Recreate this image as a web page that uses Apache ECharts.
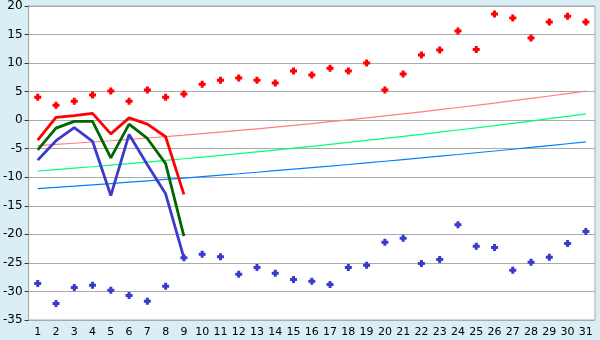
<!DOCTYPE html>
<html><head><meta charset="utf-8">
<script src="https://cdn.jsdelivr.net/npm/echarts@6/dist/echarts.min.js"></script>
<style>html,body{margin:0;padding:0;background:#daeef5;}#c{width:600px;height:340px;}</style>
</head><body><div id="c"></div>
<script>
var days = ['1','2','3','4','5','6','7','8','9','10','11','12','13','14','15','16','17','18','19','20','21','22','23','24','25','26','27','28','29','30','31'];
var maxPoints = [4.0,2.6,3.3,4.4,5.1,3.3,5.3,4.0,4.6,6.3,7.0,7.4,7.0,6.5,8.6,7.9,9.1,8.6,10.0,5.3,8.1,11.4,12.3,15.6,12.4,18.6,17.9,14.4,17.2,18.2,17.2];
var minPoints = [-28.6,-32.1,-29.3,-28.9,-29.8,-30.7,-31.7,-29.1,-24.1,-23.5,-23.9,-27.0,-25.8,-26.8,-27.9,-28.2,-28.8,-25.8,-25.4,-21.4,-20.7,-25.1,-24.4,-18.3,-22.1,-22.3,-26.3,-24.9,-24.0,-21.6,-19.5];
var maxLine = [-3.5,0.5,0.8,1.2,-2.4,0.4,-0.7,-2.9,-13.0];
var meanLine = [-5.2,-1.4,-0.2,-0.2,-6.6,-0.7,-3.2,-7.6,-20.3];
var minLine = [-7.0,-3.6,-1.3,-3.7,-13.2,-2.5,-7.8,-12.9,-24.1];
var normMax = [-4.45,-4.25,-4.04,-3.82,-3.60,-3.37,-3.12,-2.87,-2.62,-2.35,-2.08,-1.80,-1.51,-1.21,-0.90,-0.59,-0.26,0.07,0.40,0.75,1.11,1.47,1.84,2.22,2.61,3.00,3.41,3.82,4.24,4.66,5.10];
var normMean = [-8.90,-8.65,-8.40,-8.16,-7.88,-7.61,-7.33,-7.05,-6.76,-6.47,-6.17,-5.86,-5.55,-5.23,-4.91,-4.58,-4.24,-3.90,-3.55,-3.20,-2.84,-2.47,-2.10,-1.72,-1.34,-0.95,-0.55,-0.15,0.26,0.67,1.09];
var normMin = [-12.00,-11.78,-11.56,-11.33,-11.10,-10.86,-10.62,-10.38,-10.14,-9.89,-9.63,-9.38,-9.12,-8.85,-8.58,-8.31,-8.04,-7.76,-7.48,-7.19,-6.90,-6.61,-6.31,-6.01,-5.70,-5.40,-5.09,-4.77,-4.45,-4.13,-3.80];
var yTicks = {min:-35, max:20, interval:5};

var plus = 'path://M2,0H5V2H7V5H5V7H2V5H0V2H2Z';
function thin(data,color){return {type:'line',data:data,symbol:'none',lineStyle:{color:color,width:1.2},animation:false,z:2};}
function thick(data,color){return {type:'line',data:data,symbol:'none',lineStyle:{color:color,width:2.8},animation:false,z:3};}
function pts(data,color){return {type:'scatter',data:data,symbol:plus,symbolSize:7,itemStyle:{color:color,opacity:1},animation:false,z:4};}

var chart = echarts.init(document.getElementById('c'));
chart.setOption({
  backgroundColor:'#daeef5',
  grid:{left:26,right:5,top:5,bottom:20,show:true,backgroundColor:'#ffffff',borderColor:'#aaaaaa',borderWidth:1},
  xAxis:{type:'category',data:days,boundaryGap:true,
    axisLine:{lineStyle:{color:'#aaaaaa'}},
    axisTick:{alignWithLabel:true,length:5,lineStyle:{color:'#333333'}},
    axisLabel:{color:'#000',fontSize:11,fontFamily:'DejaVu Sans',margin:7,interval:0},
    splitLine:{show:false}},
  yAxis:{type:'value',min:yTicks.min,max:yTicks.max,interval:yTicks.interval,
    axisLine:{show:true,lineStyle:{color:'#aaaaaa'}},
    axisTick:{show:true,length:4,lineStyle:{color:'#333333'}},
    axisLabel:{color:'#000',fontSize:12,fontFamily:'DejaVu Sans',margin:6},
    splitLine:{lineStyle:{color:'#aaaaaa',width:1}}},
  series:[
    thin(normMax,'#ff8080'),
    thin(normMean,'#00ff80'),
    thin(normMin,'#0080ff'),
    thick(maxLine,'#ff0000'),
    thick(meanLine,'#006600'),
    thick(minLine,'#3a3acc'),
    pts(maxPoints,'#ff0000'),
    pts(minPoints,'#3a3acc')
  ]
});
</script></body></html>
